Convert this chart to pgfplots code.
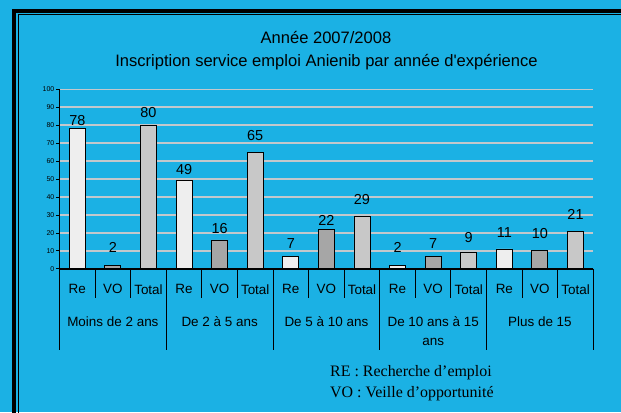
\documentclass[border=0pt]{standalone}
\usepackage{fontspec}
\usepackage{pgfplots}
\usepackage{pgfplotstable}
\pgfplotsset{compat=1.18}
\setmainfont{Liberation Sans}
\newfontfamily\arial{Liberation Sans}
\newfontfamily\tnr{Liberation Serif}
\definecolor{bg}{RGB}{27,177,228}
\definecolor{gridgray}{RGB}{195,200,204}
\definecolor{reFill}{RGB}{238,238,238}
\definecolor{voFill}{RGB}{166,166,166}
\definecolor{totFill}{RGB}{200,200,200}

\pgfplotstableread{
x y
0 78
3 49
6 7
9 2
12 11
}\reData
\pgfplotstableread{
x y
1 2
4 16
7 22
10 7
13 10
}\voData
\pgfplotstableread{
x y
2 80
5 65
8 29
11 9
14 21
}\totData
\pgfplotstableread{
x y lab
0 82.8 78
1 11.9 2
2 87.2 80
3 55.4 49
4 22.5 16
5 74.5 65
6 14.2 7
7 27.1 22
8 38.7 29
9 11.7 2
10 14.2 7
11 17.5 9
12 20.3 11
13 19.7 10
14 30.5 21
}\labData

\begin{document}
\begin{tikzpicture}[x=1bp,y=1bp]
\useasboundingbox (0,0) rectangle (621,412);
\fill[bg] (0,0) rectangle (621,412);
\begin{scope}
\clip (0,0) rectangle (621,412);
\draw[line width=4bp] (14,-20) -- (14,401) -- (650,401);
\draw[line width=1.2bp] (18.3,-20) -- (18.3,397.3) -- (650,397.3);
\end{scope}
\node[anchor=base, font=\arial\fontsize{16.6}{18}\selectfont, inner sep=0pt] at (326,368.7) {Année 2007/2008};
\node[anchor=base, font=\arial\fontsize{16.6}{18}\selectfont, inner sep=0pt] at (326.5,346) {Inscription service emploi Anienib par année d'expérience};
\node[anchor=base west, font=\tnr\fontsize{16}{18}\selectfont, inner sep=0pt] at (330,35.3) {RE : Recherche d’emploi};
\node[anchor=base west, font=\tnr\fontsize{16}{18}\selectfont, inner sep=0pt] at (330,15) {VO : Veille d’opportunité};

\begin{axis}[
  at={(59.5bp,143.3bp)}, anchor=south west,
  scale only axis, width=533.8bp, height=179.4bp,
  xmin=-0.5, xmax=14.5, ymin=0, ymax=100,
  axis x line=bottom, axis y line=left,
  axis line style={-, black},
  x axis line style={line width=1.6bp},
  y axis line style={line width=0.8bp},
  xtick={0,...,14},
  xticklabels={Re,VO,Total,Re,VO,Total,Re,VO,Total,Re,VO,Total,Re,VO,Total},
  ytick={0,10,...,100},
  xtick style={draw=none},
  ytick style={black, line width=0.6bp},
  tick align=outside, major tick length=3.5bp,
  ymajorgrids, grid style={gridgray, line width=1.5bp},
  yticklabel style={font=\fontsize{7}{8}\selectfont, inner sep=1.5bp},
  xticklabel style={font=\fontsize{13.5}{15}\selectfont, anchor=center, yshift=-17bp, text depth=0pt},
  /pgf/number format/assume math mode=true,
  clip=false,
]
\addplot[ybar, bar width=16bp, bar shift=0pt, draw=black, line width=0.9bp, fill=reFill] table[x=x,y=y] {\reData};
\addplot[ybar, bar width=16bp, bar shift=0pt, draw=black, line width=0.9bp, fill=voFill] table[x=x,y=y] {\voData};
\addplot[ybar, bar width=16bp, bar shift=0pt, draw=black, line width=0.9bp, fill=totFill] table[x=x,y=y] {\totData};
\addplot[draw=none, mark=none, nodes near coords, point meta=explicit symbolic,
  nodes near coords align=center,
  every node near coord/.append style={font=\fontsize{14.5}{16}\selectfont, inner sep=0pt, text=black}]
  table[x=x,y=y,meta=lab] {\labData};
\pgfplotsinvokeforeach{0.5,1.5,3.5,4.5,6.5,7.5,9.5,10.5,12.5,13.5}{
  \draw[black, line width=1bp] (axis cs:#1,0) -- ([yshift=-29.5bp]axis cs:#1,0);
}
\pgfplotsinvokeforeach{-0.5,2.5,5.5,8.5,11.5,14.5}{
  \draw[black, line width=1bp] (axis cs:#1,0) -- ([yshift=-81.5bp]axis cs:#1,0);
}
\node[anchor=base, font=\fontsize{13.5}{15}\selectfont, inner sep=0pt, yshift=-57.3bp] at (axis cs:1,0) {Moins de 2 ans};
\node[anchor=base, font=\fontsize{13.5}{15}\selectfont, inner sep=0pt, yshift=-57.3bp] at (axis cs:4,0) {De 2 à 5 ans};
\node[anchor=base, font=\fontsize{13.5}{15}\selectfont, inner sep=0pt, yshift=-57.3bp] at (axis cs:7,0) {De 5 à 10 ans};
\node[anchor=base, font=\fontsize{13.5}{15}\selectfont, inner sep=0pt, yshift=-57.3bp] at (axis cs:10,0) {De 10 ans à 15};
\node[anchor=base, font=\fontsize{13.5}{15}\selectfont, inner sep=0pt, yshift=-76.5bp] at (axis cs:10,0) {ans};
\node[anchor=base, font=\fontsize{13.5}{15}\selectfont, inner sep=0pt, yshift=-57.3bp] at (axis cs:13,0) {Plus de 15};
\end{axis}
\end{tikzpicture}
\end{document}
